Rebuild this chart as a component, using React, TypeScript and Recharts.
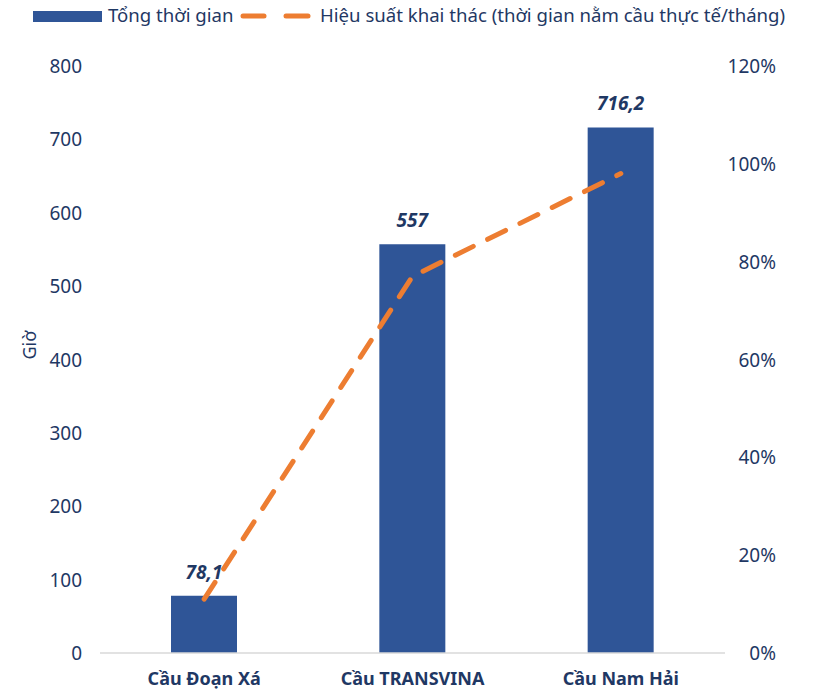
import { Bar, ComposedChart, LabelList, Line, XAxis, YAxis } from 'recharts'

const bridges = ['Cầu Đoạn Xá', 'Cầu TRANSVINA', 'Cầu Nam Hải']
const totalHours = [78.1, 557, 716.2]
const efficiency = [0.11, 0.77, 0.98]
const hourTicks = [0, 100, 200, 300, 400, 500, 600, 700, 800]
const pctTicks = [0, 0.2, 0.4, 0.6, 0.8, 1.0, 1.2]

const data = bridges.map((name, i) => ({ name, hours: totalHours[i], eff: efficiency[i] }))

const FONT = '"Noto Sans", sans-serif'
const NAVY = '#1F3864'
const BLUE = '#2F5597'
const ORANGE = '#ED7D31'

const fmtComma = (v: number) => String(v).replace('.', ',')

function LeftTick(props: any) {
  const { x, y, payload } = props
  return (
    <text x={x} y={y} dy={7} textAnchor="end" fill={NAVY} fontSize={19} fontFamily={FONT}>
      {payload.value}
    </text>
  )
}

function RightTick(props: any) {
  const { x, y, payload } = props
  return (
    <text x={x} y={y} dy={7} textAnchor="end" fill={NAVY} fontSize={19} fontFamily={FONT}>
      {Math.round(payload.value * 100)}%
    </text>
  )
}

function CatTick(props: any) {
  const { x, y, payload } = props
  return (
    <text x={x} y={y} dy={24} textAnchor="middle" fill={NAVY} fontSize={18} fontWeight="bold" fontFamily={FONT}>
      {payload.value}
    </text>
  )
}

function BarLabel(props: any) {
  const { x, y, width, value } = props
  return (
    <text x={x + width / 2} y={y - 17} textAnchor="middle" fill={NAVY} fontSize={19} fontWeight="bold" fontStyle="italic" fontFamily={FONT}>
      {fmtComma(value)}
    </text>
  )
}

export default function App() {
  return (
    <div style={{ position: 'absolute', left: 0, top: 0, width: 828, height: 694, background: '#fff', fontFamily: FONT }}>
      <div style={{ position: 'absolute', top: 2, left: 0, width: 828, height: 28, color: NAVY, fontSize: 18.6, whiteSpace: 'nowrap' }}>
        <span style={{ position: 'absolute', left: 33, top: 9, width: 69, height: 11, background: BLUE }} />
        <span style={{ position: 'absolute', left: 108, top: 0 }}>Tổng thời gian</span>
        <svg style={{ position: 'absolute', left: 238, top: 7 }} width={76} height={14}>
          <line x1={5} y1={7} x2={26} y2={7} stroke={ORANGE} strokeWidth={5} strokeLinecap="round" />
          <line x1={48} y1={7} x2={70} y2={7} stroke={ORANGE} strokeWidth={5} strokeLinecap="round" />
        </svg>
        <span style={{ position: 'absolute', left: 320, top: 0 }}>Hiệu suất khai thác (thời gian nằm cầu thực tế/tháng)</span>
      </div>
      <ComposedChart width={828} height={694} data={data} margin={{ top: 66, right: 0, bottom: 0, left: 0 }} barCategoryGap={0}>
        <XAxis
          dataKey="name"
          height={41}
          axisLine={{ stroke: '#D9D9D9', strokeWidth: 1.5 }}
          tickLine={false}
          tick={<CatTick />}
          interval={0}
        />
        <YAxis
          yAxisId="left"
          width={100}
          domain={[0, 800]}
          ticks={hourTicks}
          axisLine={false}
          tickLine={false}
          tickMargin={12}
          tick={<LeftTick />}
          label={{ value: 'Giờ', angle: -90, position: 'insideLeft', offset: 30, fill: NAVY, fontSize: 18, fontFamily: FONT }}
        />
        <YAxis
          yAxisId="right"
          orientation="right"
          width={103}
          domain={[0, 1.2]}
          ticks={pctTicks}
          axisLine={false}
          tickLine={false}
          tickMargin={45}
          tick={<RightTick />}
        />
        <Bar yAxisId="left" dataKey="hours" fill={BLUE} barSize={66} isAnimationActive={false}>
          <LabelList dataKey="hours" content={<BarLabel />} />
        </Bar>
        <Line
          yAxisId="right"
          dataKey="eff"
          type="linear"
          stroke={ORANGE}
          strokeWidth={5}
          strokeDasharray="20 16"
          strokeLinecap="round"
          strokeLinejoin="round"
          dot={false}
          activeDot={false}
          isAnimationActive={false}
        />
      </ComposedChart>
    </div>
  )
}
